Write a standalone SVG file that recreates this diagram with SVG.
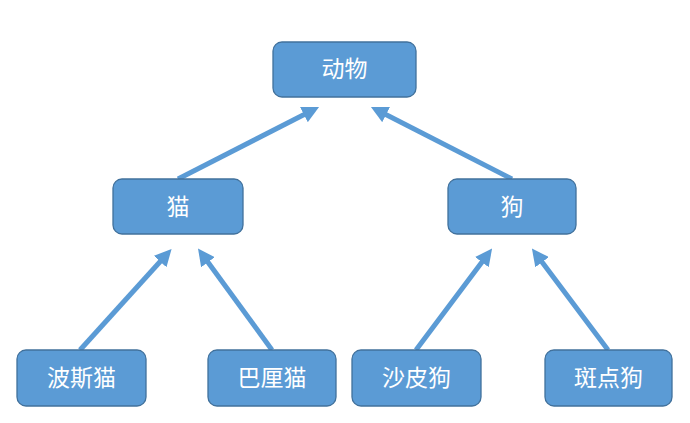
<svg xmlns="http://www.w3.org/2000/svg" width="690" height="423" viewBox="0 0 690 423">
<style>
.box{fill:#5B9BD5;stroke:#41719C;stroke-width:1.3}
.lbl{fill:#fff;font-family:"Liberation Sans","Noto Sans CJK SC",sans-serif;font-size:23px;text-anchor:middle;dominant-baseline:central}
.edge{stroke:#5B9BD5;stroke-width:5;fill:none;marker-end:url(#ah)}
</style>
<defs>
<marker id="ah" viewBox="0 0 10 10" refX="6" refY="5" markerWidth="3.4" markerHeight="3.4" orient="auto" markerUnits="strokeWidth">
<path d="M0,0 L10,5 L0,10 Z" fill="#5B9BD5"/>
</marker>
</defs>
<g id="connectors">
<line class="edge" x1="178" y1="179" x2="313" y2="110"/>
<line class="edge" x1="512" y1="179" x2="377" y2="110"/>
<line class="edge" x1="80" y1="350" x2="167" y2="254"/>
<line class="edge" x1="272" y1="350" x2="202" y2="254"/>
<line class="edge" x1="416" y1="350" x2="488" y2="254"/>
<line class="edge" x1="608" y1="350" x2="536" y2="254"/>
</g>
<g id="animal"><rect class="box" x="273" y="42" width="143" height="55" rx="9"/><text class="lbl" x="344.5" y="69">动物</text></g>
<g id="cat"><rect class="box" x="113" y="179" width="130" height="55" rx="9"/><text class="lbl" x="178" y="206.5">猫</text></g>
<g id="dog"><rect class="box" x="448" y="179" width="128" height="55" rx="9"/><text class="lbl" x="512" y="206.5">狗</text></g>
<g id="persian"><rect class="box" x="17" y="350" width="129" height="56" rx="9"/><text class="lbl" x="81.5" y="378">波斯猫</text></g>
<g id="balinese"><rect class="box" x="208" y="350" width="128" height="56" rx="9"/><text class="lbl" x="272" y="378">巴厘猫</text></g>
<g id="shar-pei"><rect class="box" x="352" y="350" width="129" height="56" rx="9"/><text class="lbl" x="416.5" y="378">沙皮狗</text></g>
<g id="dalmatian"><rect class="box" x="545" y="350" width="127" height="56" rx="9"/><text class="lbl" x="608.5" y="378">斑点狗</text></g>
</svg>
